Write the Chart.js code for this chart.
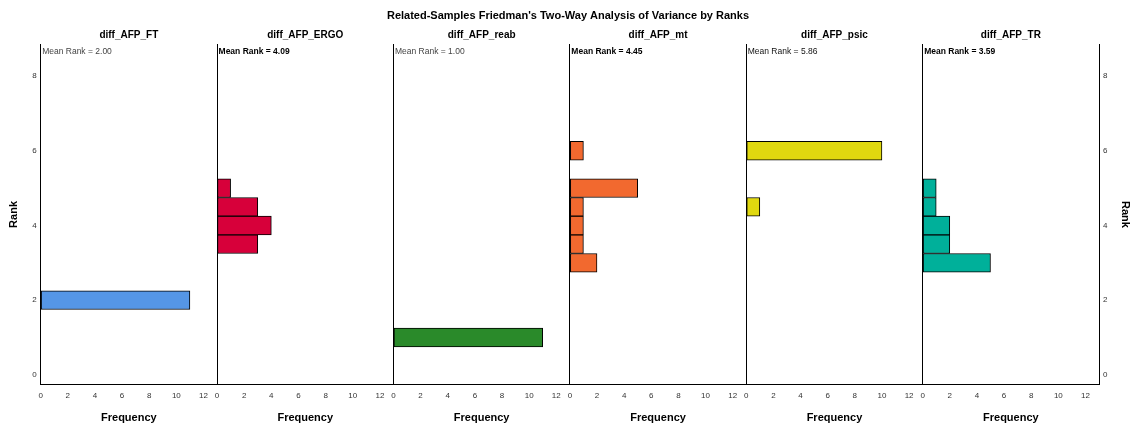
<!DOCTYPE html>
<html>
<head>
<meta charset="utf-8">
<script src="https://cdn.jsdelivr.net/npm/chart.js@4.4.1/dist/chart.umd.min.js"></script>
<style>
  html, body { margin: 0; padding: 0; background: #fff; }
</style>
</head>
<body>
<canvas id="friedmanChart" width="1132" height="428"></canvas>
<script>
const variables = ['diff_AFP_FT', 'diff_AFP_ERGO', 'diff_AFP_reab', 'diff_AFP_mt', 'diff_AFP_psic', 'diff_AFP_TR'];
const meanRanks = [2.00, 4.09, 1.00, 4.45, 5.86, 3.59];

// rank bins (width 0.5) and how many cases fall in each
const ftRanks = [2];
const ftFreq = [11];
const ergoRanks = [3.5, 4, 4.5, 5];
const ergoFreq = [3, 4, 3, 1];
const reabRanks = [1];
const reabFreq = [11];
const mtRanks = [3, 3.5, 4, 4.5, 5, 6];
const mtFreq = [2, 1, 1, 1, 5, 1];
const psicRanks = [4.5, 6];
const psicFreq = [1, 10];
const trRanks = [3, 3.5, 4, 4.5, 5];
const trFreq = [5, 2, 2, 1, 1];

const rankTicks = [0, 2, 4, 6, 8];
const freqTicks = [0, 2, 4, 6, 8, 10, 12];

const allRanks = [ftRanks, ergoRanks, reabRanks, mtRanks, psicRanks, trRanks];
const allFreq = [ftFreq, ergoFreq, reabFreq, mtFreq, psicFreq, trFreq];
const colors = ['#5596e6', '#d7003a', '#2a8a2a', '#f2692f', '#e0d80f', '#00b09a'];

Chart.defaults.font.family = "'Liberation Sans', Arial, sans-serif";

const datasets = variables.map(function(name, i) {
    return {
        label: name,
        data: allRanks[i].map(function(r, j) { return { x: allFreq[i][j], y: r }; }),
        xAxisID: 'x' + i,
        yAxisID: 'y',
        backgroundColor: colors[i],
        borderColor: '#000',
        borderWidth: 1,
        borderSkipped: false,
        grouped: false,
        categoryPercentage: 1,
        barPercentage: 1
    };
});

const scales = {};
// bottom frequency axes, left to right
variables.forEach(function(name, i) {
    scales['x' + i] = {
        type: 'linear',
        position: 'bottom',
        stack: 'freq',
        min: 0,
        max: 13,
        afterBuildTicks: function(scale) {
            scale.ticks = freqTicks.map(function(v) { return { value: v }; });
        },
        ticks: { font: { size: 8 }, color: '#333', padding: 6, maxRotation: 0, autoSkip: false },
        grid: {
            drawTicks: false,
            lineWidth: 1,
            color: function(ctx) { return ctx.tick && ctx.tick.value === 0 ? '#000' : 'rgba(0,0,0,0)'; }
        },
        border: { display: true, color: '#000', width: 1 },
        title: {
            display: true,
            text: 'Frequency',
            font: { size: 11, weight: 'bold' },
            color: '#000',
            padding: { top: 4.8, bottom: 3.5 }
        }
    };
});
// top axes only carry the panel names; top boxes are laid out in reverse order
for (let i = variables.length - 1; i >= 0; i--) {
    scales['t' + i] = {
        type: 'linear',
        position: 'top',
        stack: 'names',
        min: 0,
        max: 13,
        ticks: { display: false },
        grid: { display: false, drawTicks: false },
        border: { display: false },
        title: {
            display: true,
            text: variables[i],
            font: { size: 10, weight: 'bold' },
            color: '#000',
            padding: { top: 4.4, bottom: 3 }
        }
    };
}

const rankAxis = function(pos, pad) {
    return {
        type: 'linear',
        position: pos,
        min: -0.27,
        max: 8.86,
        offset: false,
        afterBuildTicks: function(scale) {
            scale.ticks = rankTicks.map(function(v) { return { value: v }; });
        },
        ticks: { font: { size: 8 }, color: '#333', padding: 4 },
        grid: { display: false, drawTicks: false, offset: false },
        border: { display: true, color: '#000', width: 1 },
        title: {
            display: true,
            text: 'Rank',
            font: { size: 11, weight: 'bold' },
            color: '#000',
            padding: pad
        }
    };
};
scales.y = rankAxis('left', { top: 3, bottom: 8 });
scales.y2 = rankAxis('right', { top: 0.4, bottom: 6.9 });

const meanRankLabels = {
    id: 'meanRankLabels',
    afterDatasetsDraw: function(chart) {
        const ctx = chart.ctx;
        const weights = ['normal', 'bold', 'normal', 'bold', 'normal', 'bold'];
        const fills = ['#444', '#000', '#444', '#000', '#111', '#000'];
        ctx.save();
        ctx.textBaseline = 'middle';
        ctx.textAlign = 'left';
        variables.forEach(function(name, i) {
            const sc = chart.scales['x' + i];
            ctx.font = weights[i] + " 8.5px 'Liberation Sans', Arial, sans-serif";
            ctx.fillStyle = fills[i];
            ctx.fillText('Mean Rank = ' + meanRanks[i].toFixed(2), sc.left + 1.5, chart.chartArea.top + 7.5);
        });
        ctx.restore();
    }
};

new Chart(document.getElementById('friedmanChart'), {
    type: 'bar',
    data: { datasets: datasets },
    options: {
        indexAxis: 'y',
        responsive: false,
        animation: false,
        layout: { padding: { left: 4, right: 0, top: 0, bottom: 0 } },
        scales: scales,
        plugins: {
            legend: { display: false },
            tooltip: { enabled: false },
            title: {
                display: true,
                text: "Related-Samples Friedman's Two-Way Analysis of Variance by Ranks",
                font: { size: 11, weight: 'bold' },
                color: '#000',
                padding: { top: 9.4, bottom: 2 }
            }
        }
    },
    plugins: [meanRankLabels]
});
</script>
</body>
</html>
